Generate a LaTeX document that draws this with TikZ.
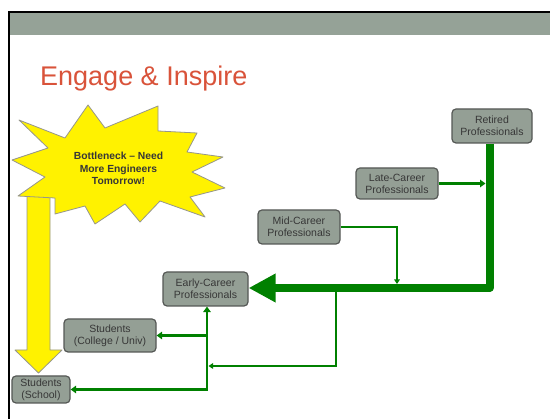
\documentclass[tikz,border=0pt]{standalone}
\usepackage{fontspec}
\setmainfont{Liberation Sans}
\usetikzlibrary{arrows.meta}
\definecolor{band}{RGB}{149,162,151}
\definecolor{nodefill}{RGB}{148,159,149}
\definecolor{nodeline}{RGB}{85,88,85}
\definecolor{titlered}{RGB}{217,83,58}
\definecolor{flow}{RGB}{0,128,0}
\definecolor{txt}{RGB}{55,55,55}
\definecolor{starline}{RGB}{150,150,140}
\begin{document}
\begin{tikzpicture}[x=1pt,y=-1pt,
  box/.style={draw=nodeline, line width=1.2pt, fill=nodefill, rounded corners=4pt, text=txt, align=center, font=\fontsize{10.5}{12}\selectfont, inner sep=0pt},
  thinflow/.style={draw=flow, line width=1.6pt, -{Triangle[length=4.5pt,width=5.5pt]}},
  midflow/.style={draw=flow, line width=2.6pt, -{Triangle[length=5.5pt,width=7.5pt]}},
  bigflow/.style={draw=flow, line width=8pt, line join=round, -{Triangle[length=27pt,width=27pt]}},
  yellowshape/.style={fill=yellow, draw=starline, line width=0.8pt, line join=round}
]
\useasboundingbox (0,0) rectangle (550,419);
\fill[white] (0,0) rectangle (550,419);
% slide frame
\fill[band] (8.5,12.5) rectangle (550,35);
\draw[line width=2pt] (8.5,419) -- (8.5,12.5) -- (550,12.5);
\node[anchor=base west, text=titlered, font=\fontsize{27}{32}\selectfont, inner sep=0pt] (title) at (40,86) {Engage \& Inspire};

% yellow arrow
\draw[yellowshape] (27,195) -- (50,195) -- (50,350) -- (62,350) -- (38.5,373) -- (15,350) -- (27,350) -- cycle;
% explosion
\draw[yellowshape] (19,120) -- (65,138) -- (88,105) -- (105,128) -- (158,106) -- (158,131) -- (197,133)
  -- (187,152) -- (223,157) -- (192,172) -- (225,188) -- (190,197) -- (205,217) -- (160,201)
  -- (140,222) -- (125,204) -- (95,224) -- (85,206) -- (55,214) -- (55,198) -- (18,196)
  -- (45,177) -- (12,160) -- (48,148) -- cycle;
\node[font=\bfseries\fontsize{10.3}{12.5}\selectfont, text=txt, align=center, inner sep=0pt] (star) at (118.5,168.5) {Bottleneck – Need\\More Engineers\\Tomorrow!};

% nodes
\node[box, minimum width=80pt, minimum height=34pt] (ret) at (492,126) {Retired\\Professionals};
\node[box, minimum width=82pt, minimum height=31pt] (late) at (397,183.5) {Late-Career\\Professionals};
\node[box, minimum width=82pt, minimum height=34pt] (mid) at (299,227) {Mid-Career\\Professionals};
\node[box, minimum width=85pt, minimum height=34pt] (early) at (205.5,289) {Early-Career\\Professionals};
\node[box, minimum width=92pt, minimum height=33pt] (college) at (110,335.5) {Students\\(College / Univ)};
\node[box, minimum width=58pt, minimum height=27pt] (school) at (41,389.5) {Students\\(School)};

% connectors
\coordinate (corner) at (489.5,288);
\coordinate (lateend) at (485.5,183.5);
\coordinate (midend) at (397,284);
\coordinate (branchtop) at (336,292);
\coordinate (trunkjoin) at (208.5,366);
\coordinate (trunkbottom) at (207,389.5);
\draw[bigflow] (ret.south -| corner) -- (corner) -- (corner -| early.east);
\draw[midflow] (late.east) -- (late.east -| lateend);
\draw[thinflow] (mid.east) -| (midend);
\draw[thinflow] (branchtop) |- (trunkjoin);
\draw[midflow, {Triangle[length=5.5pt,width=7.5pt]}-{Triangle[length=5.5pt,width=7.5pt]}] (school.east) -- (trunkbottom) -- (trunkbottom |- early.south);
\draw[midflow] (trunkbottom |- college.east) -- (college.east);
\end{tikzpicture}
\end{document}
